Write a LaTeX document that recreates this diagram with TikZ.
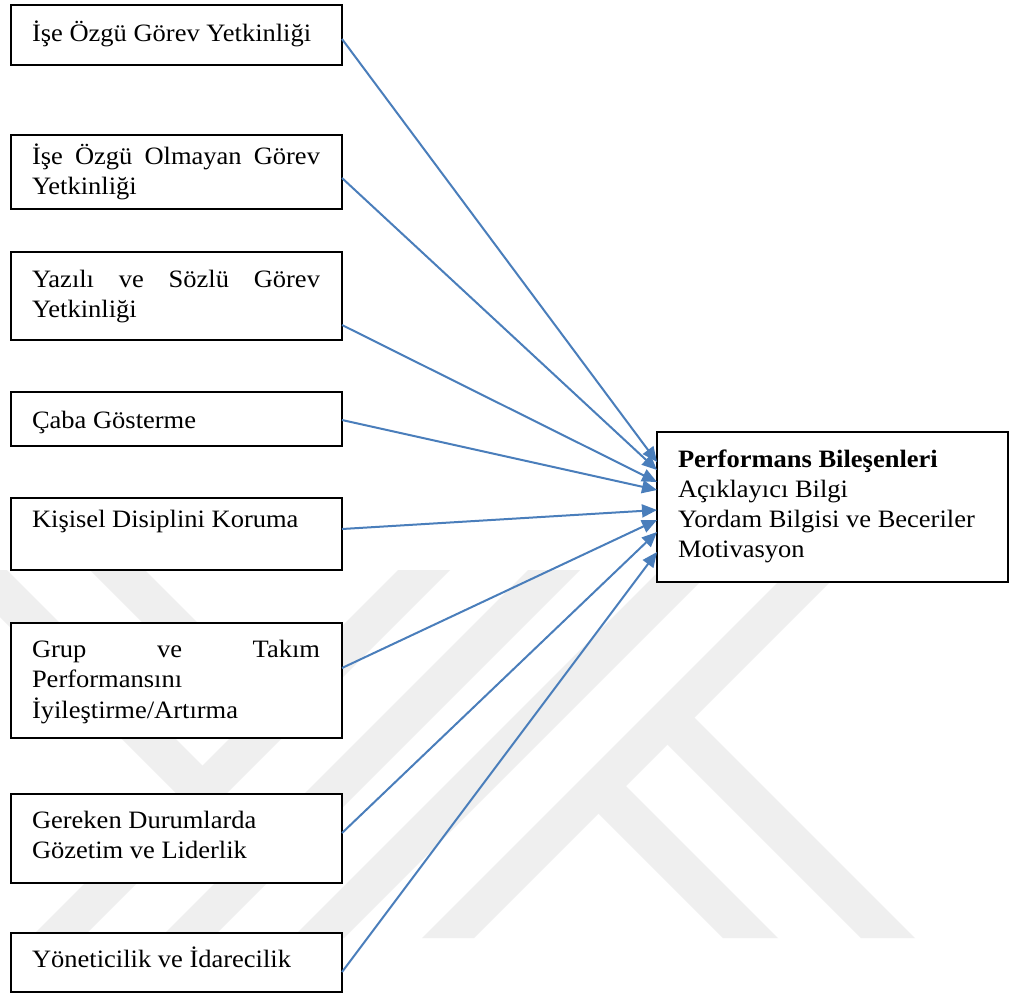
\documentclass[tikz,border=0pt]{standalone}
\usepackage{fontspec}
\setmainfont{Liberation Serif}[FakeStretch=1.06]
\usetikzlibrary{arrows.meta,calc}
\definecolor{wm}{RGB}{239,239,239}
\definecolor{arr}{RGB}{74,126,187}
\begin{document}
\begin{tikzpicture}[x=1pt,y=-1pt,
  lbox/.style={draw=black, line width=1.6pt, fill=white, rectangle, anchor=north west, inner sep=0pt, outer sep=0pt, minimum width=331pt},
  rbox/.style={draw=black, line width=1.6pt, fill=white, rectangle, anchor=north west, inner sep=0pt, outer sep=0pt, minimum width=351pt, minimum height=150pt},
  txt/.style={anchor=base west, inner sep=0pt, outer sep=0pt, font=\fontsize{25pt}{30.5pt}\selectfont},
  conn/.style={draw=arr, line width=2pt, -{Triangle[length=15pt,width=13pt]}},
  wmark/.style={fill=wm, draw=none}]
\useasboundingbox (0,0) rectangle (1011,997);
\fill[white] (0,0) rectangle (1011,997);
% watermark
\fill[wmark] (398,570) -- (450,570) -- (82,938) -- (30,938) -- cycle;
\fill[wmark] (528,570) -- (580,570) -- (212,938) -- (160,938) -- cycle;
\fill[wmark] (660,570) -- (712,570) -- (344,938) -- (292,938) -- cycle;
\fill[wmark] (790,570) -- (842,570) -- (474,938) -- (422,938) -- cycle;
\fill[wmark] (-47,570) -- (7,570) -- (215.5,778.5) -- (188.5,805.5) -- cycle;
\fill[wmark] (90,570) -- (145,570) -- (284.5,709.5) -- (257,737) -- cycle;
\fill[wmark] (681.5,704.5) -- (915,938) -- (861,938) -- (654.5,731.5) -- cycle;
\fill[wmark] (613,773) -- (778,938) -- (723,938) -- (585.5,800.5) -- cycle;
% boxes
\node[lbox, minimum height=60pt] (b1) at (11,5) {};
\node[lbox, minimum height=74pt] (b2) at (11,135) {};
\node[lbox, minimum height=88pt] (b3) at (11,252) {};
\node[lbox, minimum height=54pt] (b4) at (11,392) {};
\node[lbox, minimum height=72pt] (b5) at (11,498) {};
\node[lbox, minimum height=115pt] (b6) at (11,623) {};
\node[lbox, minimum height=89pt] (b7) at (11,794) {};
\node[lbox, minimum height=59pt] (b8) at (11,933) {};
\node[rbox] (perf) at (657,432) {};
% texts
\node[txt] (t1) at (32,41) {İşe Özgü Görev Yetkinliği};
\node[txt] (t2) at (32,164) {\vtop{\hbox to 288pt{İşe\hfill Özgü\hfill Olmayan\hfill Görev}\hbox{Yetkinliği}}};
\node[txt] (t3) at (32,287) {\vtop{\hbox to 288pt{Yazılı\hfill ve\hfill Sözlü\hfill Görev}\hbox{Yetkinliği}}};
\node[txt] (t4) at (32,428) {Çaba Gösterme};
\node[txt] (t5) at (32,527) {Kişisel Disiplini Koruma};
\node[txt] (t6) at (32,657) {\vtop{\hbox to 288pt{Grup\hfill ve\hfill Takım}\hbox{Performansını}\hbox{İyileştirme/Artırma}}};
\node[txt] (t7) at (32,828) {\vtop{\hbox{Gereken Durumlarda}\hbox{Gözetim ve Liderlik}}};
\node[txt] (t8) at (32,967) {Yöneticilik ve İdarecilik};
\node[txt, font=\fontsize{25pt}{30.2pt}\selectfont] (tp) at (678,467) {\vtop{\hbox{\bfseries Performans Bileşenleri}\hbox{Açıklayıcı Bilgi}\hbox{Yordam Bilgisi ve Beceriler}\hbox{Motivasyon}}};
% connectors
\draw[conn] ([yshift=-4pt]b1.east) -- ([yshift=45pt]perf.west);
\draw[conn] ([yshift=-6pt]b2.east) -- ([yshift=37pt]perf.west);
\draw[conn] ([yshift=-29pt]b3.east) -- ([yshift=25pt]perf.west);
\draw[conn] ([yshift=-1pt]b4.east) -- ([yshift=17pt]perf.west);
\draw[conn] ([yshift=5pt]b5.east) -- ([yshift=-3pt]perf.west);
\draw[conn] ([yshift=12.5pt]b6.east) -- ([yshift=-13pt]perf.west);
\draw[conn] ([yshift=5.5pt]b7.east) -- ([yshift=-25pt]perf.west);
\draw[conn] ([yshift=-9.5pt]b8.east) -- ([yshift=-45pt]perf.west);
\end{tikzpicture}
\end{document}
